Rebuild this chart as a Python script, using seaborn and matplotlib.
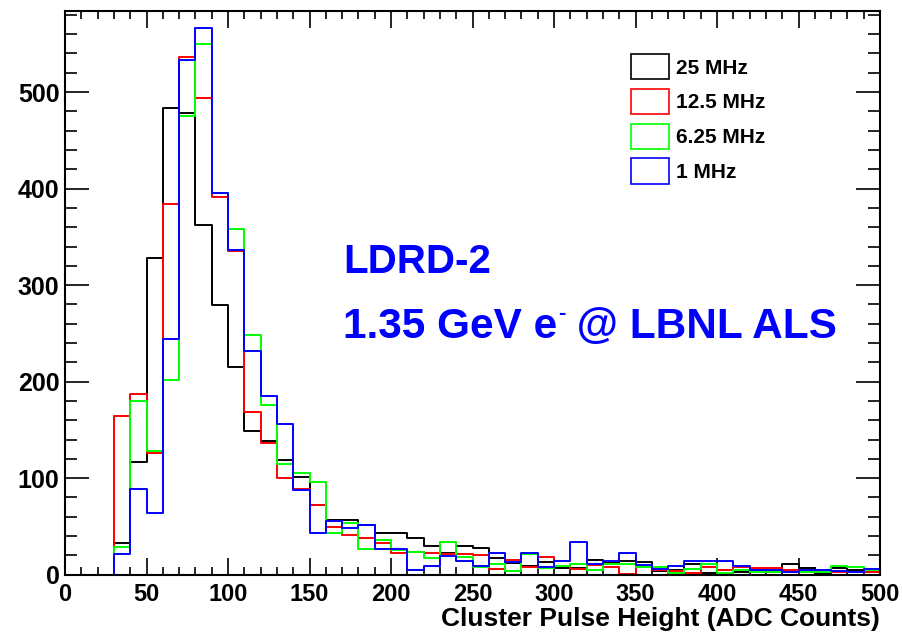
import numpy as np
import pandas as pd
import matplotlib
matplotlib.use("Agg")
import matplotlib.pyplot as plt
from matplotlib.patches import Patch
from matplotlib.ticker import MultipleLocator
from matplotlib.transforms import offset_copy
import seaborn as sns

# 10 ADC count bins from 0 to 500
bin_edges = np.arange(0, 510, 10)
rate_labels = ["25 MHz", "12.5 MHz", "6.25 MHz", "1 MHz"]
rate_colors = ["#000000", "#ff0000", "#00ff00", "#0000ff"]

counts_25 = [0, 0, 0, 33, 117, 328, 483, 478, 362, 279,
             215, 149, 139, 119, 101, 72, 57, 57, 52, 43,
             43, 38, 30, 22, 30, 28, 17, 12, 9, 13,
             7, 7, 15, 12, 14, 13, 4, 5, 11, 2,
             5, 3, 5, 3, 11, 7, 1, 7, 5, 3]
counts_12p5 = [0, 0, 0, 164, 187, 126, 384, 536, 494, 391,
               335, 169, 136, 100, 89, 72, 49, 41, 38, 33,
               22, 24, 22, 21, 21, 20, 6, 15, 8, 18,
               9, 6, 10, 8, 1, 8, 5, 4, 2, 8,
               5, 8, 7, 7, 5, 3, 3, 3, 3, 3]
counts_6p25 = [0, 0, 0, 29, 180, 128, 202, 475, 550, 395,
               358, 248, 176, 115, 105, 96, 43, 54, 27, 36,
               26, 24, 17, 34, 18, 8, 11, 4, 21, 7,
               9, 11, 5, 11, 11, 8, 8, 2, 6, 11,
               2, 5, 3, 3, 3, 3, 3, 9, 8, 5]
counts_1 = [0, 0, 0, 21, 89, 64, 244, 533, 566, 395,
            336, 232, 185, 156, 88, 43, 56, 48, 52, 27,
            27, 5, 9, 19, 14, 9, 22, 13, 22, 8,
            14, 34, 11, 14, 22, 10, 6, 9, 14, 14,
            14, 9, 5, 5, 3, 5, 5, 4, 3, 6]

centers = bin_edges[:-1] + 5
all_counts = [counts_25, counts_12p5, counts_6p25, counts_1]
df = pd.concat([
    pd.DataFrame({"adc": centers, "counts": c, "rate": lab})
    for c, lab in zip(all_counts, rate_labels)
], ignore_index=True)

sns.set_style("ticks")
plt.rcParams["font.family"] = ["Liberation Sans", "DejaVu Sans"]
plt.rcParams["font.weight"] = "bold"

fig = plt.figure(figsize=(9.02, 6.33), dpi=100)
ax = fig.add_axes([65 / 902, 1 - 574.7 / 633, (880 - 65) / 902, (574.7 - 11) / 633])

# black first, blue drawn on top like the original
for lab, col in zip(rate_labels, rate_colors):
    sns.histplot(data=df[df["rate"] == lab], x="adc", weights="counts",
                 binwidth=10, binrange=(0, 500), element="step", fill=False,
                 color=col, linewidth=1.4, ax=ax)

ax.set_xlim(0, 500)
ax.set_ylim(0, 584)
ax.xaxis.set_major_locator(MultipleLocator(50))
ax.xaxis.set_minor_locator(MultipleLocator(10))
ax.yaxis.set_major_locator(MultipleLocator(100))
ax.yaxis.set_minor_locator(MultipleLocator(20))
ax.tick_params(which="both", direction="in", top=True, right=True,
               width=1.2, color="black", labelcolor="black")
ax.tick_params(axis="x", which="major", length=12, pad=6, labelsize=17)
ax.tick_params(axis="x", which="minor", length=6)
ax.tick_params(axis="y", which="major", length=17, pad=4, labelsize=18)
ax.tick_params(axis="y", which="minor", length=8.5)
for lbl in ax.get_xticklabels() + ax.get_yticklabels():
    lbl.set_fontweight("bold")
for sp in ax.spines.values():
    sp.set_linewidth(1.5)
    sp.set_color("black")

ax.set_ylabel("")
ax.set_xlabel("Cluster Pulse Height (ADC Counts)", loc="right", color="black",
              fontsize=19, fontweight="bold", labelpad=1)

blue = "#0000ff"
fig.text(343 / 902, 1 - 273 / 633, "LDRD-2", color=blue,
         fontsize=29, fontweight="bold", ha="left", va="baseline")

# second line: "e" with a small raised dash, like the ROOT label
renderer = fig.canvas.get_renderer()
t1 = fig.text(343 / 902, 1 - 338 / 633, "1.35 GeV e", color=blue,
              fontsize=30.5, fontweight="bold", ha="left", va="baseline")
w1 = t1.get_window_extent(renderer).width * 72 / fig.dpi
t2 = fig.text(343 / 902, 1 - 338 / 633, "-", color=blue, fontsize=16, fontweight="bold",
              ha="left", va="baseline",
              transform=offset_copy(fig.transFigure, fig=fig, x=w1 + 0.5, y=14, units="points"))
w2 = t2.get_window_extent(renderer).width * 72 / fig.dpi
fig.text(343 / 902, 1 - 338 / 633, " @ LBNL ALS", color=blue, fontsize=30.5,
         fontweight="bold", ha="left", va="baseline",
         transform=offset_copy(fig.transFigure, fig=fig, x=w1 + w2 + 0.5, y=0, units="points"))

handles = [Patch(facecolor="white", edgecolor=c, linewidth=1.2) for c in rate_colors]
leg = ax.legend(handles, rate_labels, loc="upper left",
                bbox_to_anchor=(631 / 902, 1 - 54 / 633), bbox_transform=fig.transFigure,
                frameon=False, prop={"size": 15, "weight": "bold"},
                handlelength=1.8, handleheight=1.5, handletextpad=0.35,
                labelspacing=0.45, borderpad=0, borderaxespad=0)
for txt in leg.get_texts():
    txt.set_color("black")

fig.savefig("out.png", dpi=100)
